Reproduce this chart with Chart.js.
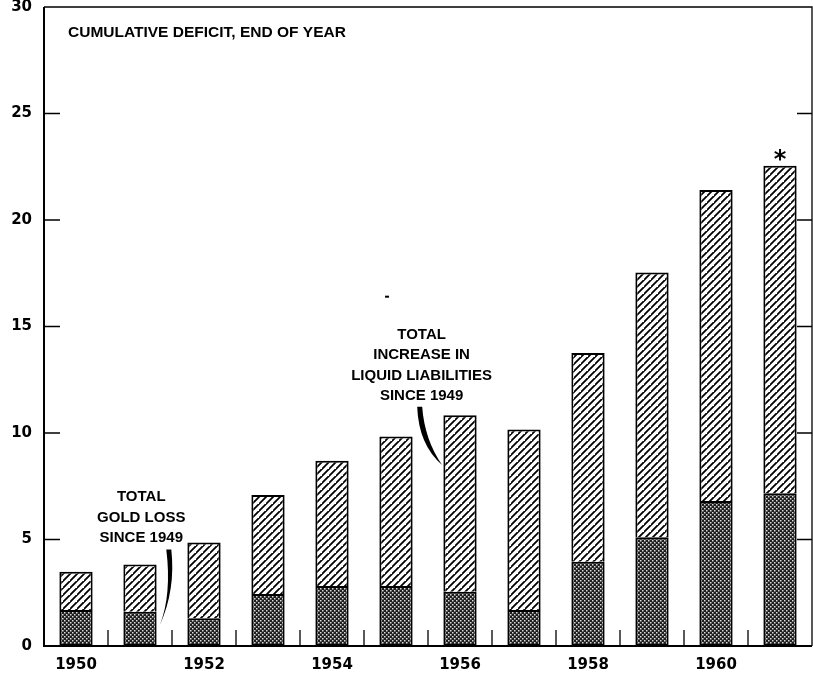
<!DOCTYPE html>
<html>
<head>
<meta charset="utf-8">
<script src="https://cdn.jsdelivr.net/npm/chart.js@4"></script>
<style>
html,body{margin:0;padding:0;background:#fff;}
#c{display:block;}
</style>
</head>
<body>
<canvas id="c" width="813" height="675"></canvas>
<script>
// ---- data ----
const years = ['1950','1951','1952','1953','1954','1955','1956','1957','1958','1959','1960','1961'];
const totalDeficit = [3.49, 3.83, 4.86, 7.09, 8.70, 9.83, 10.83, 10.16, 13.76, 17.53, 21.41, 22.55];
const goldLoss = [1.69, 1.61, 1.30, 2.44, 2.82, 2.82, 2.55, 1.69, 3.96, 5.10, 6.81, 7.17];
const liquidIncrease = totalDeficit.map((t, i) => +(t - goldLoss[i]).toFixed(2));
const yTicks = [0, 5, 10, 15, 20, 25, 30];
const titleText = 'CUMULATIVE DEFICIT, END OF YEAR';
const goldLabel = ['TOTAL', 'GOLD LOSS', 'SINCE 1949'];
const liqLabel = ['TOTAL', 'INCREASE IN', 'LIQUID LIABILITIES', 'SINCE 1949'];

const canvas = document.getElementById('c');
const ctx = canvas.getContext('2d');

function makeDiag() {
  const s = 7;
  const p = document.createElement('canvas');
  p.width = s; p.height = s;
  const g = p.getContext('2d');
  g.fillStyle = '#fff'; g.fillRect(0, 0, s, s);
  g.strokeStyle = '#000'; g.lineWidth = 1.8;
  g.beginPath();
  g.moveTo(-1, s + 1); g.lineTo(s + 1, -1);
  g.moveTo(-1 - s, s + 1); g.lineTo(1, -1);
  g.moveTo(s - 1, 2 * s + 1); g.lineTo(2 * s + 1, s - 1);
  g.stroke();
  return ctx.createPattern(p, 'repeat');
}
function makeCross() {
  const s = 4;
  const p = document.createElement('canvas');
  p.width = s; p.height = s;
  const g = p.getContext('2d');
  g.fillStyle = '#1e1e1e'; g.fillRect(0, 0, s, s);
  g.fillStyle = '#dcdcdc';
  g.fillRect(0, 0, 1.5, 1.5);
  g.fillRect(2, 2, 1.5, 1.5);
  return ctx.createPattern(p, 'repeat');
}

const framePlugin = {
  id: 'frame',
  afterDatasetsDraw(chart) {
    const { ctx, chartArea: a, scales: { x, y } } = chart;
    ctx.save();
    ctx.strokeStyle = '#000';
    // top and right borders
    ctx.lineWidth = 1.3;
    ctx.beginPath();
    ctx.moveTo(a.left, a.top); ctx.lineTo(a.right, a.top); ctx.lineTo(a.right, a.bottom);
    ctx.stroke();
    // left and bottom axes
    ctx.lineWidth = 2;
    ctx.beginPath();
    ctx.moveTo(a.left, a.top); ctx.lineTo(a.left, a.bottom); ctx.lineTo(a.right, a.bottom);
    ctx.stroke();
    // inward y ticks
    ctx.lineWidth = 1.3;
    ctx.beginPath();
    yTicks.slice(1, -1).forEach(v => {
      const py = y.getPixelForValue(v);
      ctx.moveTo(a.left, py); ctx.lineTo(a.left + 16, py);
      ctx.moveTo(a.right, py); ctx.lineTo(a.right - 15, py);
    });
    // x ticks at category boundaries
    for (let i = 1; i < years.length; i++) {
      const px = (x.getPixelForValue(i - 1) + x.getPixelForValue(i)) / 2;
      ctx.moveTo(px, a.bottom); ctx.lineTo(px, a.bottom - 16);
    }
    ctx.stroke();

    // annotations
    ctx.fillStyle = '#000';
    ctx.textBaseline = 'middle';
    ctx.textAlign = 'left';
    ctx.font = 'bold 15.5px "Liberation Sans", sans-serif';
    ctx.fillText(titleText, a.left + 24, y.getPixelForValue(28.8));

    ctx.font = 'bold 15px "Liberation Sans", sans-serif';
    ctx.textAlign = 'center';
    const gx = x.getPixelForValue(1.02);
    [7.00, 6.02, 5.08].forEach((v, i) => ctx.fillText(goldLabel[i], gx, y.getPixelForValue(v)));
    const lx = x.getPixelForValue(5.4);
    [14.6, 13.65, 12.67, 11.73].forEach((v, i) => ctx.fillText(liqLabel[i], lx, y.getPixelForValue(v)));

    // leader for gold loss (tapered)
    const p = (i, v) => [x.getPixelForValue(i), y.getPixelForValue(v)];
    let [ax, ay] = p(1.45, 4.53);
    let [bx, by] = p(1.31, 0.98);
    ctx.beginPath();
    ctx.moveTo(ax - 2.5, ay);
    ctx.quadraticCurveTo(ax + 3, ay + 45, bx, by);
    ctx.quadraticCurveTo(ax + 7, ay + 40, ax + 2.5, ay);
    ctx.closePath();
    ctx.fill();

    // leader for liquid liabilities (tapered)
    [ax, ay] = p(5.37, 11.23);
    [bx, by] = p(5.72, 8.5);
    ctx.beginPath();
    ctx.moveTo(ax - 2.5, ay);
    ctx.quadraticCurveTo(ax - 1, by - 20, bx, by);
    ctx.quadraticCurveTo(ax + 5, by - 25, ax + 2.5, ay);
    ctx.closePath();
    ctx.fill();

    // asterisk above last bar
    ctx.font = 'bold 24px "DejaVu Sans", sans-serif';
    ctx.fillText('*', x.getPixelForValue(11), y.getPixelForValue(22.8));
    // small speck
    ctx.fillRect(x.getPixelForValue(4.86) - 2, y.getPixelForValue(16.4) - 1, 4, 2);
    ctx.restore();
  }
};

new Chart(ctx, {
  type: 'bar',
  data: {
    labels: years,
    datasets: [
      {
        label: 'Total gold loss since 1949',
        data: goldLoss,
        backgroundColor: makeCross(),
        borderColor: '#000',
        borderWidth: 2,
        borderSkipped: false,
        barPercentage: 1,
        categoryPercentage: 0.52
      },
      {
        label: 'Total increase in liquid liabilities since 1949',
        data: liquidIncrease,
        backgroundColor: makeDiag(),
        borderColor: '#000',
        borderWidth: 2,
        borderSkipped: 'start',
        barPercentage: 1,
        categoryPercentage: 0.52
      }
    ]
  },
  options: {
    responsive: false,
    animation: false,
    devicePixelRatio: 1,
    layout: { padding: { top: 7, right: 1, left: 0, bottom: 0 } },
    plugins: { legend: { display: false }, tooltip: { enabled: false }, title: { display: false } },
    scales: {
      x: {
        stacked: true,
        grid: { display: false, drawTicks: false },
        border: { display: false },
        ticks: {
          color: '#000',
          font: { family: '"DejaVu Sans", sans-serif', size: 15, weight: 'bold' },
          autoSkip: false,
          maxRotation: 0,
          padding: 10,
          callback: (v, i) => (i % 2 === 0 ? years[i] : '')
        },
        afterFit: s => { s.height = 29; s.paddingLeft = 0; s.paddingRight = 0; }
      },
      y: {
        stacked: true,
        min: 0,
        max: 30,
        grid: { display: false, drawTicks: false },
        border: { display: false },
        ticks: {
          stepSize: 5,
          color: '#000',
          font: { family: '"DejaVu Sans", sans-serif', size: 15, weight: 'bold' },
          padding: 12
        },
        afterFit: s => { s.width = 44; s.paddingTop = 0; s.paddingBottom = 0; }
      }
    }
  },
  plugins: [framePlugin]
});
</script>
</body>
</html>
